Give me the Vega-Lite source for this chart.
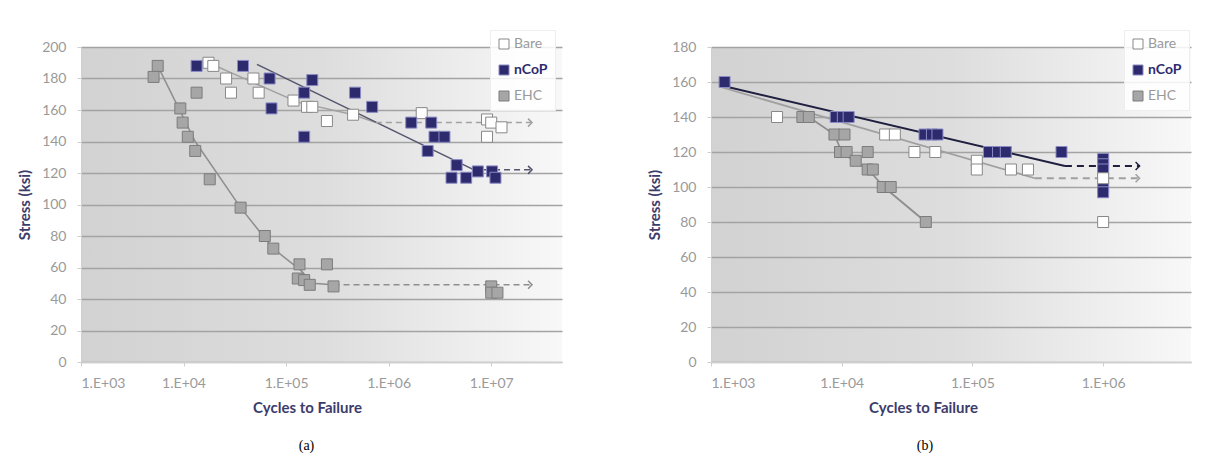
{
  "$schema": "https://vega.github.io/schema/vega-lite/v6.json",
  "background": "white",
  "padding": {"left": 17, "top": 29, "right": 5, "bottom": 5},
  "config": {
    "font": "Lato",
    "axis": {
      "labelFont": "Lato", "labelColor": "#9a9a9a", "labelFontSize": 14,
      "titleFont": "Lato", "titleFontWeight": "bold", "titleColor": "#3c3c6c", "titleFontSize": 15,
      "domainColor": "#cfcfcf", "tickColor": "#cfcfcf", "tickSize": 4,
      "gridColor": "#a3a3a3", "gridWidth": 1.3
    },
    "legend": {
      "labelFont": "Lato", "labelFontSize": 14, "symbolType": "square", "symbolSize": 100,
      "rowPadding": 12, "padding": 7, "labelOffset": 3, "symbolStrokeWidth": 1,
      "fillColor": "rgba(255,255,255,0.85)", "strokeColor": "#eeeeee"
    },
    "title": {"font": "Liberation Serif", "fontSize": 14, "fontWeight": "normal", "color": "#000000"}
  },
  "datasets": {
    "a_pts": [
      {"x": 5600, "y": 188, "s": "EHC"}, {"x": 5100, "y": 181, "s": "EHC"}, {"x": 9300, "y": 161, "s": "EHC"},
      {"x": 9800, "y": 152, "s": "EHC"}, {"x": 11000, "y": 143, "s": "EHC"}, {"x": 13000, "y": 134, "s": "EHC"},
      {"x": 13400, "y": 171, "s": "EHC"}, {"x": 18000, "y": 116, "s": "EHC"}, {"x": 36000, "y": 98, "s": "EHC"},
      {"x": 62000, "y": 80, "s": "EHC"}, {"x": 75000, "y": 72, "s": "EHC"}, {"x": 135000, "y": 62, "s": "EHC"},
      {"x": 130000, "y": 53, "s": "EHC"}, {"x": 150000, "y": 52, "s": "EHC"}, {"x": 170000, "y": 49, "s": "EHC"},
      {"x": 250000, "y": 62, "s": "EHC"}, {"x": 290000, "y": 48, "s": "EHC"}, {"x": 10000000, "y": 48, "s": "EHC"},
      {"x": 10000000, "y": 44, "s": "EHC"}, {"x": 11500000, "y": 44, "s": "EHC"},
      {"x": 17500, "y": 190, "s": "Bare"}, {"x": 19500, "y": 188, "s": "Bare"}, {"x": 26000, "y": 180, "s": "Bare"},
      {"x": 29000, "y": 171, "s": "Bare"}, {"x": 48000, "y": 180, "s": "Bare"}, {"x": 54000, "y": 171, "s": "Bare"},
      {"x": 118000, "y": 166, "s": "Bare"}, {"x": 160000, "y": 162, "s": "Bare"}, {"x": 180000, "y": 162, "s": "Bare"},
      {"x": 250000, "y": 153, "s": "Bare"}, {"x": 450000, "y": 157, "s": "Bare"}, {"x": 2100000, "y": 158, "s": "Bare"},
      {"x": 9100000, "y": 154, "s": "Bare"}, {"x": 10000000, "y": 152, "s": "Bare"}, {"x": 12600000, "y": 149, "s": "Bare"},
      {"x": 9100000, "y": 143, "s": "Bare"},
      {"x": 13400, "y": 188, "s": "nCoP"}, {"x": 38000, "y": 188, "s": "nCoP"}, {"x": 69000, "y": 180, "s": "nCoP"},
      {"x": 72000, "y": 161, "s": "nCoP"}, {"x": 150000, "y": 171, "s": "nCoP"}, {"x": 150000, "y": 143, "s": "nCoP"},
      {"x": 180000, "y": 179, "s": "nCoP"}, {"x": 470000, "y": 171, "s": "nCoP"}, {"x": 690000, "y": 162, "s": "nCoP"},
      {"x": 1660000, "y": 152, "s": "nCoP"}, {"x": 2600000, "y": 152, "s": "nCoP"}, {"x": 2800000, "y": 143, "s": "nCoP"},
      {"x": 3500000, "y": 143, "s": "nCoP"}, {"x": 2400000, "y": 134, "s": "nCoP"}, {"x": 4600000, "y": 125, "s": "nCoP"},
      {"x": 4100000, "y": 117, "s": "nCoP"}, {"x": 5700000, "y": 117, "s": "nCoP"}, {"x": 7400000, "y": 121, "s": "nCoP"},
      {"x": 10200000, "y": 121, "s": "nCoP"}, {"x": 11000000, "y": 117, "s": "nCoP"}
    ],
    "a_solid": [
      {"x": 17500, "y": 190, "s": "Bare"}, {"x": 130000, "y": 165, "s": "Bare"}, {"x": 450000, "y": 157, "s": "Bare"}, {"x": 750000, "y": 152, "s": "Bare"},
      {"x": 52000, "y": 189, "s": "nCoP"}, {"x": 6800000, "y": 122, "s": "nCoP"},
      {"x": 5600, "y": 188, "s": "EHC"}, {"x": 13000, "y": 140, "s": "EHC"}, {"x": 36000, "y": 98, "s": "EHC"},
      {"x": 75000, "y": 72, "s": "EHC"}, {"x": 140000, "y": 58, "s": "EHC"}, {"x": 180000, "y": 50, "s": "EHC"}, {"x": 290000, "y": 49, "s": "EHC"}
    ],
    "a_dash": [
      {"x": 750000, "y": 152, "s": "Bare"}, {"x": 25000000, "y": 152, "s": "Bare"},
      {"x": 6800000, "y": 122, "s": "nCoP"}, {"x": 25000000, "y": 122, "s": "nCoP"},
      {"x": 290000, "y": 49, "s": "EHC"}, {"x": 25000000, "y": 49, "s": "EHC"}
    ],
    "a_arrow": [
      {"x": 25000000, "y": 152, "s": "Bare"}, {"x": 25000000, "y": 122, "s": "nCoP"}, {"x": 25000000, "y": 49, "s": "EHC"}
    ],
    "b_pts": [
      {"x": 1270, "y": 160, "s": "nCoP"}, {"x": 9000, "y": 140, "s": "nCoP"}, {"x": 10200, "y": 140, "s": "nCoP"},
      {"x": 11300, "y": 140, "s": "nCoP"}, {"x": 43000, "y": 130, "s": "nCoP"}, {"x": 49000, "y": 130, "s": "nCoP"},
      {"x": 54000, "y": 130, "s": "nCoP"}, {"x": 134000, "y": 120, "s": "nCoP"}, {"x": 157000, "y": 120, "s": "nCoP"},
      {"x": 180000, "y": 120, "s": "nCoP"}, {"x": 480000, "y": 120, "s": "nCoP"}, {"x": 1000000, "y": 116, "s": "nCoP"},
      {"x": 1000000, "y": 113, "s": "nCoP"}, {"x": 1000000, "y": 110, "s": "nCoP"}, {"x": 1000000, "y": 100, "s": "nCoP"},
      {"x": 1000000, "y": 97, "s": "nCoP"},
      {"x": 3200, "y": 140, "s": "Bare"}, {"x": 21500, "y": 130, "s": "Bare"}, {"x": 25500, "y": 130, "s": "Bare"},
      {"x": 36000, "y": 120, "s": "Bare"}, {"x": 52000, "y": 120, "s": "Bare"}, {"x": 108000, "y": 115, "s": "Bare"},
      {"x": 108000, "y": 110, "s": "Bare"}, {"x": 197000, "y": 110, "s": "Bare"}, {"x": 266000, "y": 110, "s": "Bare"},
      {"x": 1000000, "y": 105, "s": "Bare"}, {"x": 1000000, "y": 80, "s": "Bare"},
      {"x": 5000, "y": 140, "s": "EHC"}, {"x": 5600, "y": 140, "s": "EHC"}, {"x": 8800, "y": 130, "s": "EHC"},
      {"x": 10500, "y": 130, "s": "EHC"}, {"x": 9700, "y": 120, "s": "EHC"}, {"x": 10900, "y": 120, "s": "EHC"},
      {"x": 15800, "y": 120, "s": "EHC"}, {"x": 12800, "y": 115, "s": "EHC"}, {"x": 15800, "y": 110, "s": "EHC"},
      {"x": 17300, "y": 110, "s": "EHC"}, {"x": 20600, "y": 100, "s": "EHC"}, {"x": 23700, "y": 100, "s": "EHC"},
      {"x": 44000, "y": 80, "s": "EHC"}
    ],
    "b_solid": [
      {"x": 1200, "y": 158, "s": "nCoP"}, {"x": 510000, "y": 112, "s": "nCoP"},
      {"x": 1200, "y": 157, "s": "Bare"}, {"x": 300000, "y": 105, "s": "Bare"},
      {"x": 5600, "y": 140, "s": "EHC"}, {"x": 8800, "y": 130, "s": "EHC"}, {"x": 10000, "y": 120, "s": "EHC"},
      {"x": 12800, "y": 114, "s": "EHC"}, {"x": 16000, "y": 110, "s": "EHC"}, {"x": 21000, "y": 100, "s": "EHC"},
      {"x": 44000, "y": 80, "s": "EHC"}
    ],
    "b_dash": [
      {"x": 510000, "y": 112, "s": "nCoP"}, {"x": 1900000, "y": 112, "s": "nCoP"},
      {"x": 300000, "y": 105, "s": "Bare"}, {"x": 1900000, "y": 105, "s": "Bare"}
    ],
    "b_arrow": [
      {"x": 1900000, "y": 112, "s": "nCoP"}, {"x": 1900000, "y": 105, "s": "Bare"}
    ]
  },
  "spacing": 149,
  "bounds": "flush",
  "resolve": {
    "scale": {"fill": "independent", "stroke": "independent", "color": "independent"},
    "legend": {"fill": "independent", "stroke": "independent"}
  },
  "hconcat": [
    {
      "width": 481, "height": 315,
      "view": {
        "stroke": null,
        "fill": {"gradient": "linear", "x1": 0, "y1": 0, "x2": 1, "y2": 0,
          "stops": [{"offset": 0, "color": "#d2d2d2"}, {"offset": 0.5, "color": "#dddddd"}, {"offset": 1, "color": "#f8f8f8"}]}
      },
      "title": {"text": "(a)", "orient": "bottom", "anchor": "middle", "frame": "group", "dx": -15, "offset": 24},
      "encoding": {
        "x": {"field": "x", "type": "quantitative",
          "scale": {"type": "log", "domain": [1000, 49000000], "nice": false},
          "axis": {"values": [1000, 10000, 100000, 1000000, 10000000], "grid": false, "labelPadding": 10,
            "labelExpr": "'1.E+0' + round(log(datum.value)/LN10)", "title": "Cycles to Failure",
            "titleX": 226, "titlePadding": 10}},
        "y": {"field": "y", "type": "quantitative",
          "scale": {"domain": [0, 200], "nice": false},
          "axis": {"values": [0, 20, 40, 60, 80, 100, 120, 140, 160, 180, 200], "grid": true, "labelPadding": 11,
            "title": "Stress (ksi)", "titlePadding": 9}}
      },
      "layer": [
        {"data": {"name": "a_solid"}, "mark": {"type": "line", "strokeWidth": 1.5},
          "encoding": {"color": {"field": "s", "type": "nominal", "legend": null,
            "scale": {"domain": ["nCoP", "Bare", "EHC"], "range": ["#55556f", "#a2a2a2", "#8e8e8e"]}}}},
        {"data": {"name": "a_dash"}, "mark": {"type": "line", "strokeWidth": 1.5, "strokeDash": [6, 4]},
          "encoding": {"color": {"field": "s", "type": "nominal", "legend": null,
            "scale": {"domain": ["nCoP", "Bare", "EHC"], "range": ["#55556f", "#a2a2a2", "#8e8e8e"]}}}},
        {"data": {"name": "a_arrow"}, "mark": {"type": "point", "shape": "M-1,-1L0,0L-1,1", "filled": false, "size": 64, "strokeWidth": 1.5, "opacity": 1},
          "encoding": {"color": {"field": "s", "type": "nominal", "legend": null,
            "scale": {"domain": ["nCoP", "Bare", "EHC"], "range": ["#55556f", "#a2a2a2", "#8e8e8e"]}}}},
        {"data": {"name": "a_pts"}, "mark": {"type": "point", "shape": "square", "filled": true, "size": 121, "strokeWidth": 1, "opacity": 1},
          "encoding": {
            "fill": {"field": "s", "type": "nominal",
              "scale": {"domain": ["Bare", "nCoP", "EHC"], "range": ["#ffffff", "#2d2b6e", "#a6a6a6"]},
              "legend": {"title": null, "orient": "none", "legendX": 409, "legendY": -17,
                "labelColor": {"expr": "datum.value === 'nCoP' ? '#2d2b6e' : '#9a9a9a'"},
                "labelFontWeight": {"expr": "datum.value === 'nCoP' ? 'bold' : 'normal'"}}},
            "stroke": {"field": "s", "type": "nominal",
              "scale": {"domain": ["Bare", "nCoP", "EHC"], "range": ["#888888", "#8a8ac4", "#7c7c7c"]},
              "legend": {"title": null, "orient": "none", "legendX": 409, "legendY": -17,
                "labelColor": {"expr": "datum.value === 'nCoP' ? '#2d2b6e' : '#9a9a9a'"},
                "labelFontWeight": {"expr": "datum.value === 'nCoP' ? 'bold' : 'normal'"}}}
          }}
      ]
    },
    {
      "width": 480, "height": 315,
      "view": {
        "stroke": null,
        "fill": {"gradient": "linear", "x1": 0, "y1": 0, "x2": 1, "y2": 0,
          "stops": [{"offset": 0, "color": "#d2d2d2"}, {"offset": 0.5, "color": "#dddddd"}, {"offset": 1, "color": "#f8f8f8"}]}
      },
      "title": {"text": "(b)", "orient": "bottom", "anchor": "middle", "frame": "group", "dx": -26, "offset": 24},
      "encoding": {
        "x": {"field": "x", "type": "quantitative",
          "scale": {"type": "log", "domain": [1000, 4700000], "nice": false},
          "axis": {"values": [1000, 10000, 100000, 1000000], "grid": false, "labelPadding": 10,
            "labelExpr": "'1.E+0' + round(log(datum.value)/LN10)", "title": "Cycles to Failure",
            "titleX": 212, "titlePadding": 10}},
        "y": {"field": "y", "type": "quantitative",
          "scale": {"domain": [0, 180], "nice": false},
          "axis": {"values": [0, 20, 40, 60, 80, 100, 120, 140, 160, 180], "grid": true, "labelPadding": 11,
            "title": "Stress (ksi)", "titlePadding": 9}}
      },
      "layer": [
        {"data": {"name": "b_solid"}, "mark": {"type": "line", "strokeWidth": 1.8},
          "encoding": {"color": {"field": "s", "type": "nominal", "legend": null,
            "scale": {"domain": ["nCoP", "Bare", "EHC"], "range": ["#1f1f40", "#a0a0a0", "#8e8e8e"]}}}},
        {"data": {"name": "b_dash"}, "mark": {"type": "line", "strokeWidth": 1.8, "strokeDash": [7, 5]},
          "encoding": {"color": {"field": "s", "type": "nominal", "legend": null,
            "scale": {"domain": ["nCoP", "Bare", "EHC"], "range": ["#1f1f40", "#a0a0a0", "#8e8e8e"]}}}},
        {"data": {"name": "b_arrow"}, "mark": {"type": "point", "shape": "M-1,-1L0,0L-1,1", "filled": false, "size": 64, "strokeWidth": 1.5, "opacity": 1},
          "encoding": {"color": {"field": "s", "type": "nominal", "legend": null,
            "scale": {"domain": ["nCoP", "Bare", "EHC"], "range": ["#1f1f40", "#a0a0a0", "#8e8e8e"]}}}},
        {"data": {"name": "b_pts"}, "mark": {"type": "point", "shape": "square", "filled": true, "size": 121, "strokeWidth": 1, "opacity": 1},
          "encoding": {
            "fill": {"field": "s", "type": "nominal",
              "scale": {"domain": ["Bare", "nCoP", "EHC"], "range": ["#ffffff", "#2d2b6e", "#a6a6a6"]},
              "legend": {"title": null, "orient": "none", "legendX": 413, "legendY": -17,
                "labelColor": {"expr": "datum.value === 'nCoP' ? '#2d2b6e' : '#9a9a9a'"},
                "labelFontWeight": {"expr": "datum.value === 'nCoP' ? 'bold' : 'normal'"}}},
            "stroke": {"field": "s", "type": "nominal",
              "scale": {"domain": ["Bare", "nCoP", "EHC"], "range": ["#888888", "#8a8ac4", "#7c7c7c"]},
              "legend": {"title": null, "orient": "none", "legendX": 413, "legendY": -17,
                "labelColor": {"expr": "datum.value === 'nCoP' ? '#2d2b6e' : '#9a9a9a'"},
                "labelFontWeight": {"expr": "datum.value === 'nCoP' ? 'bold' : 'normal'"}}}
          }}
      ]
    }
  ]
}
